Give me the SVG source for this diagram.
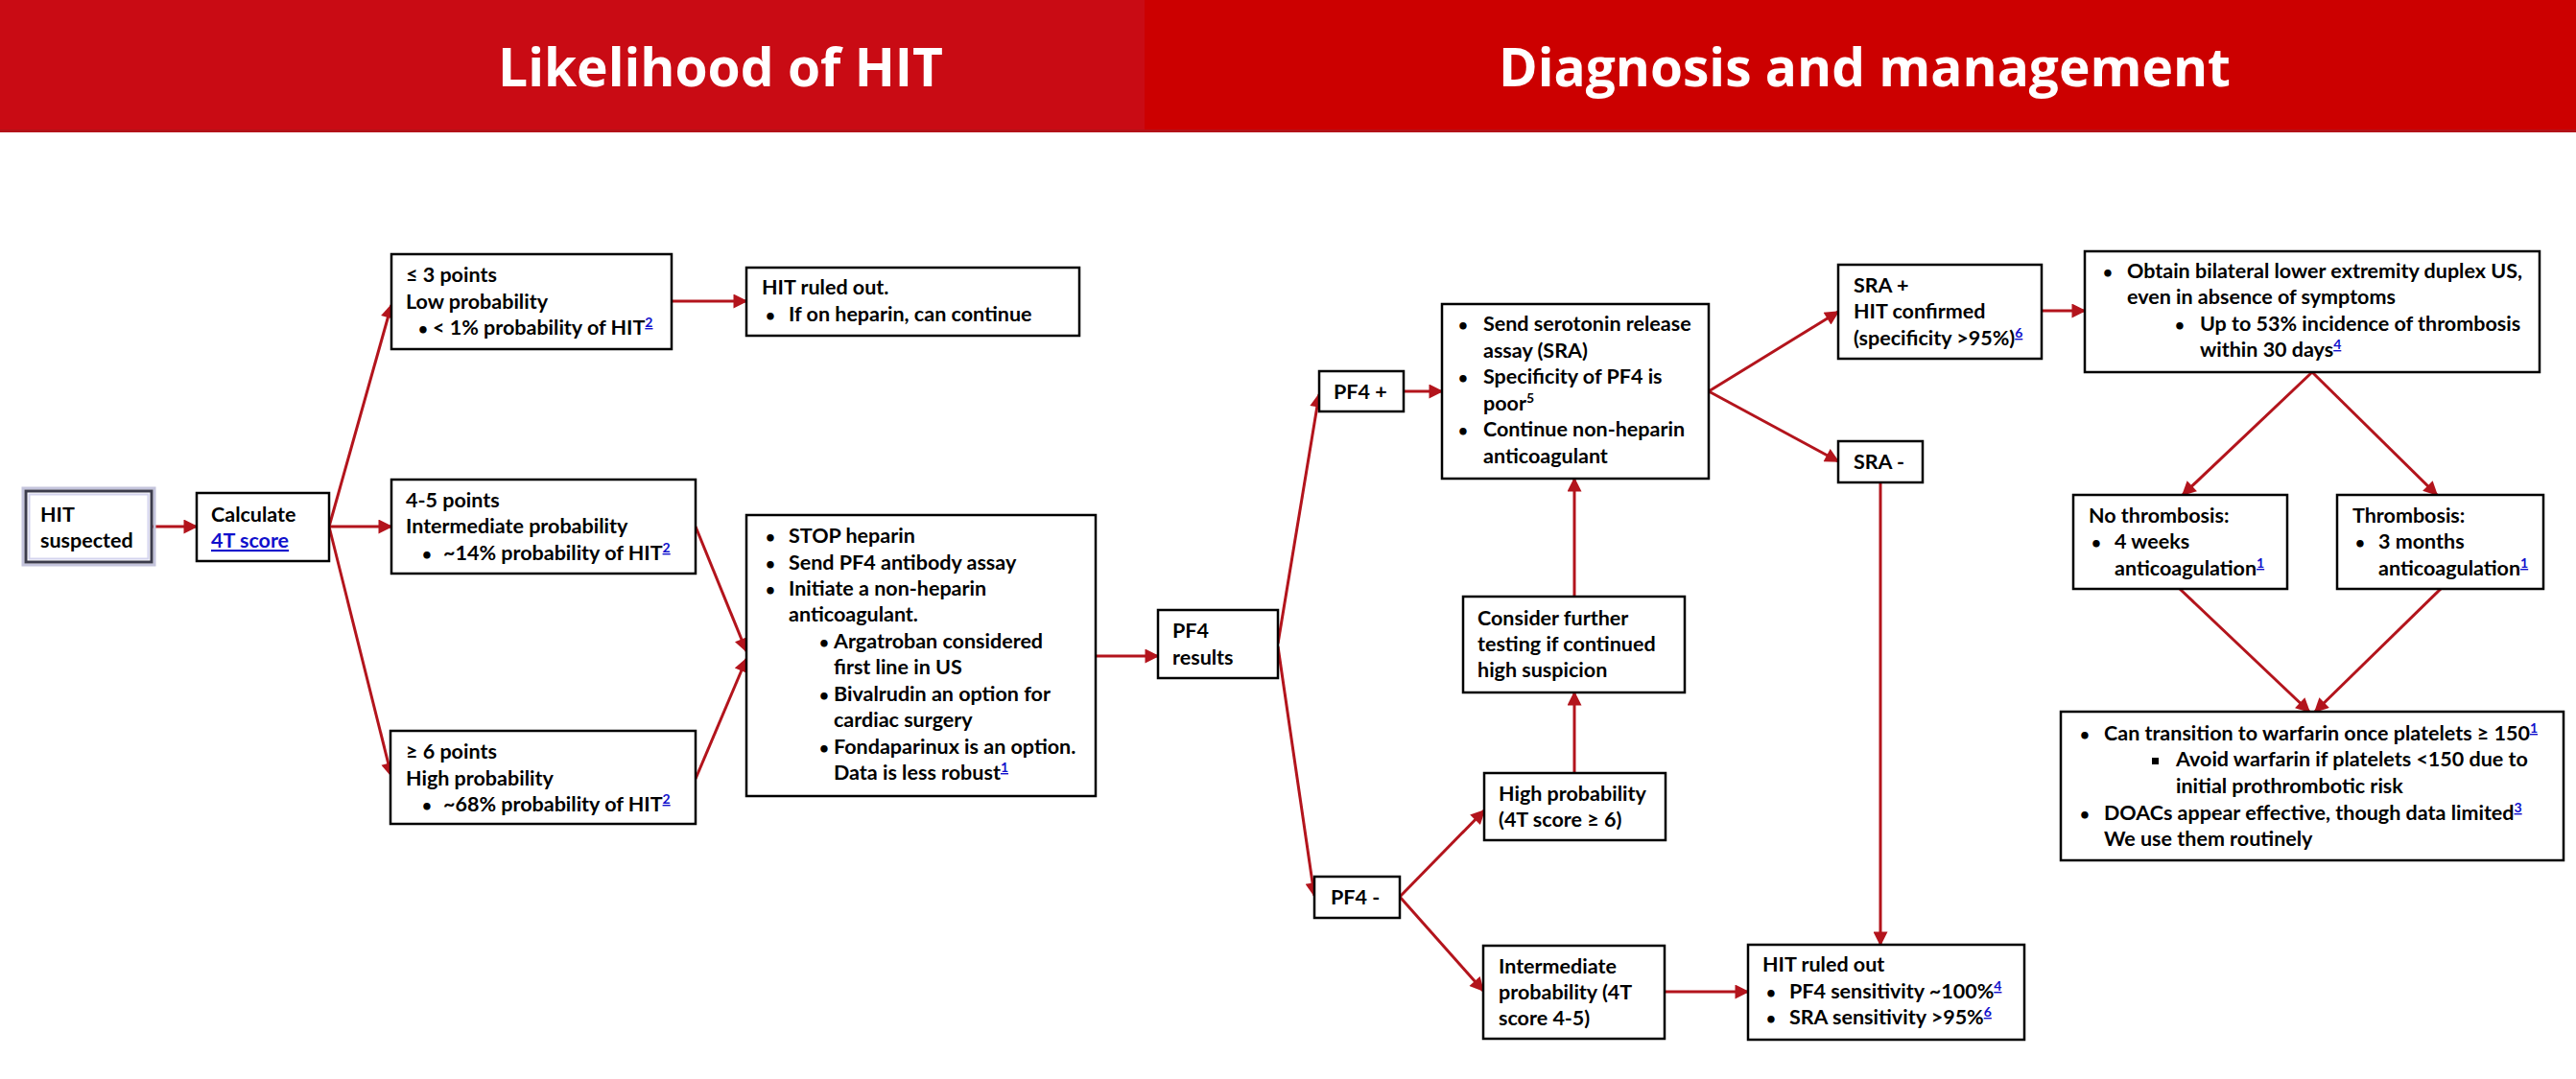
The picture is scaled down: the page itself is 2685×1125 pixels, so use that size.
<svg xmlns="http://www.w3.org/2000/svg" width="2685" height="1125" viewBox="0 0 2685 1125">
<defs>
<style>
.box{fill:#fff;stroke:#000;stroke-width:2.5}
.t{font-family:Lato,"Open Sans","Liberation Sans",sans-serif;font-weight:700;font-size:21.5px;fill:#000}
.b{font-size:17px}
.sup{font-size:14px;fill:#1010CC;text-decoration:underline}
.supb{font-size:14px;fill:#000}
.lnk{fill:#1010CC;text-decoration:underline}
.title{font-family:"Open Sans","Liberation Sans",sans-serif;font-weight:700;font-size:56px;fill:#fff}
.c{fill:none;stroke:#B3141C;stroke-width:3}
</style>
<marker id="ah" viewBox="0 0 10 10" refX="9" refY="5" markerWidth="6" markerHeight="5" orient="auto" markerUnits="strokeWidth">
<path d="M0,0 L10,5 L0,10 z" fill="#B3141C"/>
</marker>
</defs>
<rect width="2685" height="1125" fill="#fff"/>
<g id="header">
<rect x="0" y="0" width="1193" height="137" fill="#C90B14"/>
<rect x="1193" y="0" width="1492" height="137" fill="#CC0000"/>
<rect x="0" y="135" width="2685" height="3" fill="#B31218"/>
<text class="title" x="519" y="90" textLength="464" lengthAdjust="spacingAndGlyphs">Likelihood of HIT</text>
<text class="title" x="1562" y="90" textLength="763" lengthAdjust="spacingAndGlyphs">Diagnosis and management</text>
</g>
<g id="connectors">
<line class="c" x1="159" y1="549" x2="205" y2="549" marker-end="url(#ah)"/>
<line class="c" x1="343" y1="549" x2="408" y2="318" marker-end="url(#ah)"/>
<line class="c" x1="343" y1="549" x2="408" y2="549" marker-end="url(#ah)"/>
<line class="c" x1="343" y1="549" x2="408" y2="809" marker-end="url(#ah)"/>
<line class="c" x1="700" y1="314" x2="778" y2="314" marker-end="url(#ah)"/>
<line class="c" x1="725" y1="549" x2="778" y2="679" marker-end="url(#ah)"/>
<line class="c" x1="725" y1="812" x2="778" y2="687" marker-end="url(#ah)"/>
<line class="c" x1="1142" y1="684" x2="1207" y2="684" marker-end="url(#ah)"/>
<line class="c" x1="1332" y1="671" x2="1375" y2="411" marker-end="url(#ah)"/>
<line class="c" x1="1332" y1="674" x2="1370" y2="934" marker-end="url(#ah)"/>
<line class="c" x1="1463" y1="408" x2="1503" y2="408" marker-end="url(#ah)"/>
<line class="c" x1="1781" y1="408" x2="1916" y2="325" marker-end="url(#ah)"/>
<line class="c" x1="1781" y1="408" x2="1916" y2="481" marker-end="url(#ah)"/>
<line class="c" x1="2128" y1="324" x2="2173" y2="324" marker-end="url(#ah)"/>
<line class="c" x1="1960" y1="503" x2="1960" y2="985" marker-end="url(#ah)"/>
<line class="c" x1="1641" y1="806" x2="1641" y2="722" marker-end="url(#ah)"/>
<line class="c" x1="1641" y1="622" x2="1641" y2="499" marker-end="url(#ah)"/>
<line class="c" x1="1459" y1="935" x2="1547" y2="845" marker-end="url(#ah)"/>
<line class="c" x1="1459" y1="935" x2="1546" y2="1033" marker-end="url(#ah)"/>
<line class="c" x1="1735" y1="1034" x2="1822" y2="1034" marker-end="url(#ah)"/>
<line class="c" x1="2410" y1="388" x2="2275" y2="516" marker-end="url(#ah)"/>
<line class="c" x1="2410" y1="388" x2="2540" y2="516" marker-end="url(#ah)"/>
<line class="c" x1="2272" y1="614" x2="2407" y2="742" marker-end="url(#ah)"/>
<line class="c" x1="2544" y1="614" x2="2413" y2="742" marker-end="url(#ah)"/>
</g>
<g id="hit-suspected">
<rect x="24" y="509" width="137" height="80" fill="none" stroke="#C4C4DC" stroke-width="3"/>
<rect x="27" y="512" width="131" height="74" fill="#fff" stroke="#3C3C4C" stroke-width="3"/>
<rect x="30.5" y="515.5" width="124" height="67" fill="none" stroke="#D4D4EE" stroke-width="2"/>
<text class="t" x="42" y="544">HIT</text>
<text class="t" x="42" y="571">suspected</text>
</g>
<g id="calc">
<rect class="box" x="205" y="514" width="138" height="71"/>
<text class="t" x="220" y="544">Calculate</text>
<text class="t lnk" x="220" y="571">4T score</text>
</g>
<g id="low">
<rect class="box" x="408" y="265" width="292" height="99"/>
<text class="t" x="423" y="294">≤ 3 points</text>
<text class="t" x="423" y="322">Low probability</text>
<text class="t b" x="436" y="349">•</text>
<text class="t" x="451" y="349">&lt; 1% probability of HIT<tspan class="sup" dy="-8">2</tspan></text>
</g>
<g id="ruled-out-1">
<rect class="box" x="778" y="279" width="347" height="71"/>
<text class="t" x="794" y="307">HIT ruled out.</text>
<text class="t b" x="798" y="335">•</text>
<text class="t" x="822" y="335">If on heparin, can continue</text>
</g>
<g id="mid">
<rect class="box" x="408" y="500" width="317" height="98"/>
<text class="t" x="423" y="529">4-5 points</text>
<text class="t" x="423" y="556">Intermediate probability</text>
<text class="t b" x="440" y="584">•</text>
<text class="t" x="462" y="584">~14% probability of HIT<tspan class="sup" dy="-8">2</tspan></text>
</g>
<g id="high">
<rect class="box" x="407" y="762" width="318" height="97"/>
<text class="t" x="423" y="791">≥ 6 points</text>
<text class="t" x="423" y="819">High probability</text>
<text class="t b" x="440" y="846">•</text>
<text class="t" x="462" y="846">~68% probability of HIT<tspan class="sup" dy="-8">2</tspan></text>
</g>
<g id="stop">
<rect class="box" x="778" y="537" width="364" height="293"/>
<text class="t b" x="798" y="566">•</text>
<text class="t" x="822" y="566">STOP heparin</text>
<text class="t b" x="798" y="594">•</text>
<text class="t" x="822" y="594">Send PF4 antibody assay</text>
<text class="t b" x="798" y="621">•</text>
<text class="t" x="822" y="621">Initiate a non-heparin</text>
<text class="t" x="822" y="648">anticoagulant.</text>
<text class="t b" x="854" y="676">•</text>
<text class="t" x="869" y="676">Argatroban considered</text>
<text class="t" x="869" y="703">first line in US</text>
<text class="t b" x="854" y="731">•</text>
<text class="t" x="869" y="731">Bivalrudin an option for</text>
<text class="t" x="869" y="758">cardiac surgery</text>
<text class="t b" x="854" y="786">•</text>
<text class="t" x="869" y="786">Fondaparinux is an option.</text>
<text class="t" x="869" y="813">Data is less robust<tspan class="sup" dy="-8">1</tspan></text>
</g>
<g id="pf4-results">
<rect class="box" x="1207" y="636" width="125" height="71"/>
<text class="t" x="1222" y="665">PF4</text>
<text class="t" x="1222" y="693">results</text>
</g>
<g id="pf4-pos">
<rect class="box" x="1375" y="387" width="88" height="42"/>
<text class="t" x="1390" y="416">PF4 +</text>
</g>
<g id="sra-send">
<rect class="box" x="1503" y="317" width="278" height="182"/>
<text class="t b" x="1520" y="345">•</text>
<text class="t" x="1546" y="345">Send serotonin release</text>
<text class="t" x="1546" y="373">assay (SRA)</text>
<text class="t b" x="1520" y="400">•</text>
<text class="t" x="1546" y="400">Specificity of PF4 is</text>
<text class="t" x="1546" y="428">poor<tspan class="supb" dy="-8">5</tspan></text>
<text class="t b" x="1520" y="455">•</text>
<text class="t" x="1546" y="455">Continue non-heparin</text>
<text class="t" x="1546" y="483">anticoagulant</text>
</g>
<g id="sra-pos">
<rect class="box" x="1916" y="276" width="212" height="98"/>
<text class="t" x="1932" y="305">SRA +</text>
<text class="t" x="1932" y="332">HIT confirmed</text>
<text class="t" x="1932" y="360">(specificity &gt;95%)<tspan class="sup" dy="-8">6</tspan></text>
</g>
<g id="sra-neg">
<rect class="box" x="1916" y="460" width="88" height="43"/>
<text class="t" x="1932" y="489">SRA -</text>
</g>
<g id="consider">
<rect class="box" x="1525" y="622" width="231" height="100"/>
<text class="t" x="1540" y="652">Consider further</text>
<text class="t" x="1540" y="679">testing if continued</text>
<text class="t" x="1540" y="706">high suspicion</text>
</g>
<g id="high-prob">
<rect class="box" x="1547" y="806" width="189" height="70"/>
<text class="t" x="1562" y="835">High probability</text>
<text class="t" x="1562" y="862">(4T score ≥ 6)</text>
</g>
<g id="pf4-neg">
<rect class="box" x="1370" y="914" width="89" height="43"/>
<text class="t" x="1387" y="943">PF4 -</text>
</g>
<g id="intermediate">
<rect class="box" x="1546" y="986" width="189" height="97"/>
<text class="t" x="1562" y="1015">Intermediate</text>
<text class="t" x="1562" y="1042">probability (4T</text>
<text class="t" x="1562" y="1069">score 4-5)</text>
</g>
<g id="ruled-out-2">
<rect class="box" x="1822" y="985" width="288" height="99"/>
<text class="t" x="1837" y="1013">HIT ruled out</text>
<text class="t b" x="1841" y="1041">•</text>
<text class="t" x="1865" y="1041">PF4 sensitivity ~100%<tspan class="sup" dy="-8">4</tspan></text>
<text class="t b" x="1841" y="1068">•</text>
<text class="t" x="1865" y="1068">SRA sensitivity &gt;95%<tspan class="sup" dy="-8">6</tspan></text>
</g>
<g id="obtain-us">
<rect class="box" x="2173" y="262" width="474" height="126"/>
<text class="t b" x="2192" y="290">•</text>
<text class="t" x="2217" y="290">Obtain bilateral lower extremity duplex US,</text>
<text class="t" x="2217" y="317">even in absence of symptoms</text>
<text class="t b" x="2267" y="345">•</text>
<text class="t" x="2293" y="345">Up to 53% incidence of thrombosis</text>
<text class="t" x="2293" y="372">within 30 days<tspan class="sup" dy="-8">4</tspan></text>
</g>
<g id="no-thrombosis">
<rect class="box" x="2161" y="516" width="223" height="98"/>
<text class="t" x="2177" y="545">No thrombosis:</text>
<text class="t b" x="2180" y="572">•</text>
<text class="t" x="2204" y="572">4 weeks</text>
<text class="t" x="2204" y="600">anticoagulation<tspan class="sup" dy="-8">1</tspan></text>
</g>
<g id="thrombosis">
<rect class="box" x="2436" y="516" width="215" height="98"/>
<text class="t" x="2452" y="545">Thrombosis:</text>
<text class="t b" x="2455" y="572">•</text>
<text class="t" x="2479" y="572">3 months</text>
<text class="t" x="2479" y="600">anticoagulation<tspan class="sup" dy="-8">1</tspan></text>
</g>
<g id="warfarin">
<rect class="box" x="2148" y="742" width="524" height="155"/>
<text class="t b" x="2168" y="772">•</text>
<text class="t" x="2193" y="772">Can transition to warfarin once platelets ≥ 150<tspan class="sup" dy="-8">1</tspan></text>
<rect x="2243" y="790" width="7" height="7" fill="#000"/>
<text class="t" x="2268" y="799">Avoid warfarin if platelets &lt;150 due to</text>
<text class="t" x="2268" y="827">initial prothrombotic risk</text>
<text class="t b" x="2168" y="855">•</text>
<text class="t" x="2193" y="855">DOACs appear effective, though data limited<tspan class="sup" dy="-8">3</tspan></text>
<text class="t" x="2193" y="882">We use them routinely</text>
</g>
</svg>
